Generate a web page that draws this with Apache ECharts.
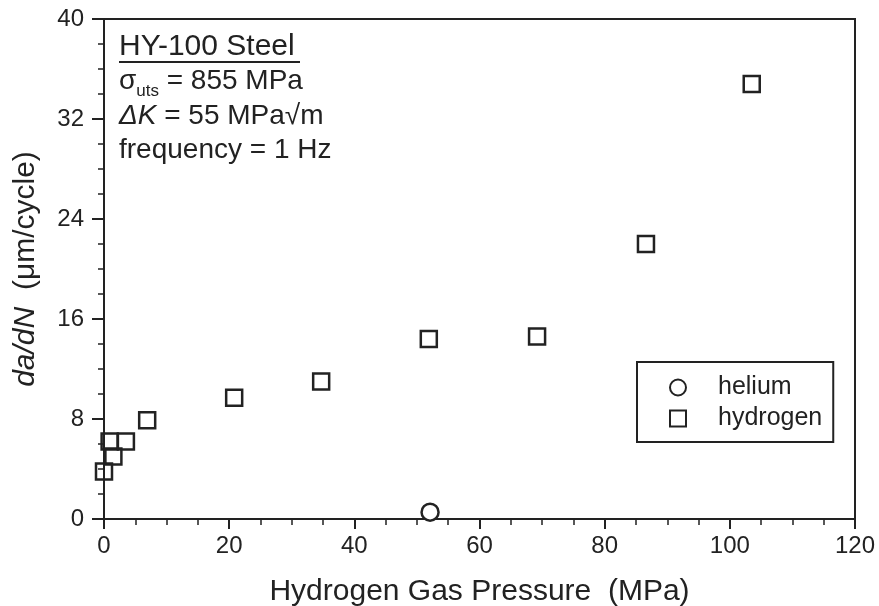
<!DOCTYPE html>
<html>
<head>
<meta charset="utf-8">
<script src="https://cdn.jsdelivr.net/npm/echarts@6/dist/echarts.min.js"></script>
<style>
html,body{margin:0;padding:0;background:#fff;}
#chart{width:879px;height:606px;}
</style>
</head>
<body>
<div id="chart"></div>
<script>
// Data
const hydrogenPressure = [0, 1.5, 0.9, 3.5, 6.9, 20.8, 34.7, 51.9, 69.2, 86.6, 103.5];
const hydrogenRate     = [3.8, 5.0, 6.2, 6.2, 7.9, 9.7, 11.0, 14.4, 14.6, 22.0, 34.8];
const heliumPressure   = [52.1];
const heliumRate       = [0.55];
const xTicks = [0, 20, 40, 60, 80, 100, 120];
const yTicks = [0, 8, 16, 24, 32, 40];
const seriesNames = ['helium', 'hydrogen'];
const xTitle = 'Hydrogen Gas Pressure  (MPa)';
const annotLines = ['HY-100 Steel', '855 MPa', '55 MPa\u221Am', 'frequency = 1 Hz'];

const FONT = '"Liberation Sans", Arial, Helvetica, sans-serif';
const INK = '#222';

const zip = (a, b) => a.map((v, i) => [v, b[i]]);

const chart = echarts.init(document.getElementById('chart'), null, {renderer: 'canvas'});

const axisCommon = {
  type: 'value',
  axisLine: {show: true, lineStyle: {color: INK, width: 2}},
  axisTick: {show: true, lineStyle: {color: INK, width: 2}},
  minorTick: {show: true, splitNumber: 4, length: 6, lineStyle: {color: INK, width: 1.5}},
  splitLine: {show: false},
  minorSplitLine: {show: false},
  axisLabel: {color: INK, fontFamily: FONT, fontSize: 24}
};

chart.setOption({
  animation: false,
  backgroundColor: '#fff',
  textStyle: {fontFamily: FONT, color: INK},
  grid: {left: 104, right: 24, top: 19, bottom: 87, show: true, borderColor: INK, borderWidth: 2,
    containLabel: false, outerBoundsMode: 'none'},
  xAxis: Object.assign({}, axisCommon, {
    min: xTicks[0], max: xTicks[xTicks.length - 1], interval: xTicks[1] - xTicks[0],
    axisTick: {show: true, length: 10, lineStyle: {color: INK, width: 2}},
    axisLabel: Object.assign({}, axisCommon.axisLabel, {margin: 15}),
    name: xTitle, nameLocation: 'middle', nameGap: 58,
    nameTextStyle: {fontFamily: FONT, fontSize: 30, color: INK}
  }),
  yAxis: Object.assign({}, axisCommon, {
    min: yTicks[0], max: yTicks[yTicks.length - 1], interval: yTicks[1] - yTicks[0],
    axisTick: {show: true, length: 12, lineStyle: {color: INK, width: 2}},
    axisLabel: Object.assign({}, axisCommon.axisLabel, {margin: 20}),
    name: '{i|da/dN}  (\u03BCm/cycle)', nameLocation: 'middle', nameGap: 63,
    nameTextStyle: {fontFamily: FONT, fontSize: 30, color: INK,
      rich: {i: {fontFamily: FONT, fontSize: 30, fontStyle: 'italic', color: INK}}}
  }),
  legend: {
    orient: 'vertical', left: 637, top: 362,
    data: [{name: seriesNames[0], icon: 'circle'}, {name: seriesNames[1], icon: 'rect'}],
    itemWidth: 16, itemHeight: 16, itemGap: 6,
    padding: [13, 11, 11, 32],
    borderColor: INK, borderWidth: 2, borderRadius: 0,
    textStyle: {fontFamily: FONT, fontSize: 25, color: INK, lineHeight: 24, padding: [0, 0, 0, 27]}
  },
  series: [
    {
      name: seriesNames[0], type: 'scatter', symbol: 'circle', symbolSize: 17,
      itemStyle: {color: '#fff', borderColor: INK, borderWidth: 2.5, opacity: 1},
      data: zip(heliumPressure, heliumRate), z: 3
    },
    {
      name: seriesNames[1], type: 'scatter', symbol: 'rect', symbolSize: 16,
      itemStyle: {color: 'rgba(255,255,255,0)', borderColor: INK, borderWidth: 2.5, opacity: 1},
      data: zip(hydrogenPressure, hydrogenRate), z: 3
    }
  ],
  graphic: [
    {type: 'text', left: 119, top: 32, z: 10,
      style: {text: annotLines[0], font: '30px ' + FONT, fill: INK}},
    {type: 'line', z: 10, shape: {x1: 119, y1: 62, x2: 300, y2: 62}, style: {stroke: INK, lineWidth: 2}},
    {type: 'text', left: 119, top: 67, z: 10,
      style: {
        text: '{a|\u03C3}{s|uts}{a| = ' + annotLines[1] + '}',
        rich: {
          a: {fontFamily: FONT, fontSize: 28, lineHeight: 28, verticalAlign: 'top', fill: INK},
          s: {fontFamily: FONT, fontSize: 17, lineHeight: 17, padding: [16, 0, 0, 0], verticalAlign: 'top', fill: INK}
        }
      }},
    {type: 'text', left: 119, top: 102, z: 10,
      style: {
        text: '{i|\u0394K}{a| = ' + annotLines[2] + '}',
        rich: {
          a: {fontFamily: FONT, fontSize: 28, fill: INK},
          i: {fontFamily: FONT, fontSize: 28, fontStyle: 'italic', fill: INK}
        }
      }},
    {type: 'text', left: 119, top: 136, z: 10,
      style: {text: annotLines[3], font: '28px ' + FONT, fill: INK}}
  ]
});
</script>
</body>
</html>
